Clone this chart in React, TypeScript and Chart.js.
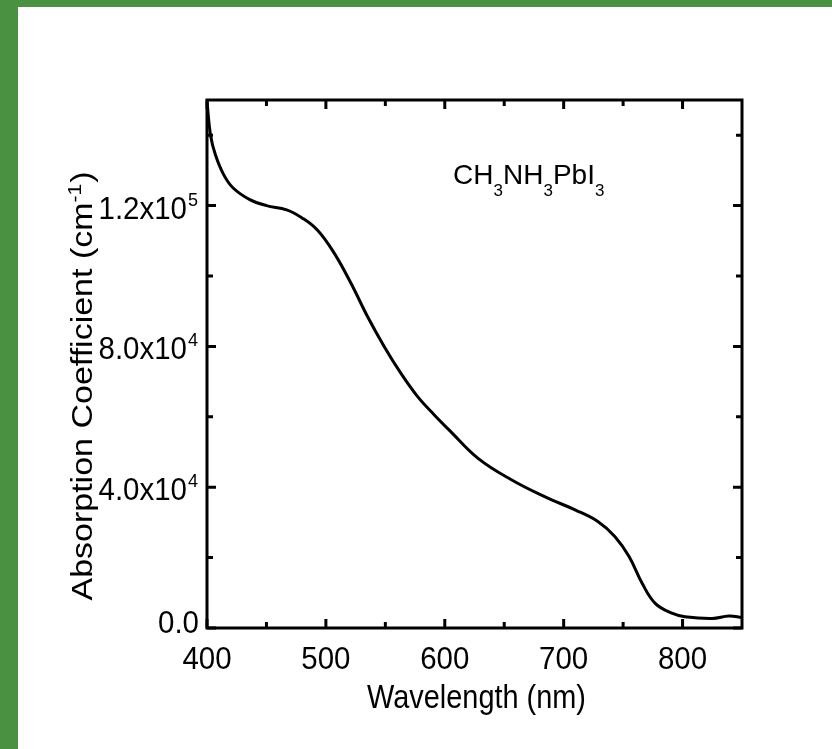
import React, { useEffect, useRef } from "react";
import { Chart, registerables } from "chart.js";

Chart.register(...registerables);

// ---- data ----
const wavelengths = [400, 403, 407, 414, 422, 436, 450, 467, 480, 493, 507, 521, 535, 549, 563, 577, 591, 605, 628, 656, 684, 710, 729, 743, 755, 766, 777, 791, 802, 825, 839, 850];
const absorption = [149500, 140000, 134500, 128800, 125000, 121700, 120000, 118800, 116500, 113000, 106500, 98000, 88500, 80000, 72400, 65800, 60600, 55800, 48200, 42100, 37300, 33500, 30200, 26000, 20300, 12700, 7000, 4200, 3200, 2700, 3400, 3000];

const xMin = 400;
const xMax = 850;
const yMin = 0;
const yMax = 150000;

const xMajorTicks = [400, 500, 600, 700, 800];
const xTickLabels = ["400", "500", "600", "700", "800"];
const xMinorTicks = [450, 550, 650, 750];

const yMajorTicks = [0, 40000, 80000, 120000];
const yTickMantissa = ["0.0", "4.0x10", "8.0x10", "1.2x10"];
const yTickExponent = ["", "4", "4", "5"];
const yMinorTicks = [20000, 60000, 100000, 140000];

const xTitle = "Wavelength (nm)";
const yTitleMain = "Absorption Coefficient (cm";
const yTitleSup = "-1";
const yTitleEnd = ")";

const annotationParts = [
  { text: "CH", sub: false },
  { text: "3", sub: true },
  { text: "NH", sub: false },
  { text: "3", sub: true },
  { text: "PbI", sub: false },
  { text: "3", sub: true },
];
const annotationAt = { x: 607, y: 126000 };

const FONT = "'Liberation Sans', Arial, Helvetica, sans-serif";

const decorPlugin = {
  id: "decor",
  afterDraw(chart: any) {
    const ctx: CanvasRenderingContext2D = chart.ctx;
    const { left, right, top, bottom } = chart.chartArea;
    const xs = chart.scales.x;
    const ys = chart.scales.y;
    ctx.save();
    ctx.strokeStyle = "#000";
    ctx.fillStyle = "#000";
    ctx.lineWidth = 3;
    ctx.lineCap = "butt";

    // frame
    ctx.strokeRect(left, top, right - left, bottom - top);

    const majorLen = 9;
    const minorLen = 6;
    const drawX = (v: number, len: number) => {
      const px = xs.getPixelForValue(v);
      ctx.beginPath();
      ctx.moveTo(px, bottom);
      ctx.lineTo(px, bottom - len);
      ctx.moveTo(px, top);
      ctx.lineTo(px, top + len);
      ctx.stroke();
    };
    const drawY = (v: number, len: number) => {
      const py = ys.getPixelForValue(v);
      ctx.beginPath();
      ctx.moveTo(left, py);
      ctx.lineTo(left + len, py);
      ctx.moveTo(right, py);
      ctx.lineTo(right - len, py);
      ctx.stroke();
    };
    xMajorTicks.forEach((v) => drawX(v, majorLen));
    xMinorTicks.forEach((v) => drawX(v, minorLen));
    yMajorTicks.forEach((v) => drawY(v, majorLen));
    yMinorTicks.forEach((v) => drawY(v, minorLen));

    const text = (t: string, x: number, y: number, size: number, align: CanvasTextAlign, sx: number) => {
      ctx.save();
      ctx.translate(x, y);
      ctx.scale(sx, 1);
      ctx.font = `${size}px ${FONT}`;
      ctx.textAlign = align;
      ctx.textBaseline = "alphabetic";
      ctx.fillText(t, 0, 0);
      ctx.restore();
    };
    const width = (t: string, size: number, sx: number) => {
      ctx.save();
      ctx.font = `${size}px ${FONT}`;
      const w = ctx.measureText(t).width * sx;
      ctx.restore();
      return w;
    };

    // x tick labels
    const tickSize = 31;
    const tickSx = 0.95;
    xMajorTicks.forEach((v, i) => {
      text(xTickLabels[i], xs.getPixelForValue(v), bottom + 41, tickSize, "center", tickSx);
    });

    // y tick labels
    const supSize = 19;
    yMajorTicks.forEach((v, i) => {
      const py = ys.getPixelForValue(v);
      const exp = yTickExponent[i];
      const rightEdge = left - 9;
      if (exp) {
        const ew = width(exp, supSize, tickSx);
        const baseline = py + 13;
        text(yTickMantissa[i], rightEdge - ew - 1, baseline, tickSize, "right", tickSx);
        text(exp, rightEdge - ew, baseline - 13, supSize, "left", tickSx);
      } else {
        text(yTickMantissa[i], left - 8, py + 5, tickSize, "right", tickSx);
      }
    });

    // x title
    const titleSize = 34;
    const titleSx = 0.85;
    text(xTitle, (left + right) / 2 + 2, bottom + 80, titleSize, "center", titleSx);

    // y title (rotated)
    ctx.save();
    ctx.translate(92, 386);
    ctx.rotate(-Math.PI / 2);
    ctx.scale(1, titleSx);
    ctx.font = `${titleSize}px ${FONT}`;
    const w1 = ctx.measureText(yTitleMain).width;
    ctx.font = `21px ${FONT}`;
    const w2 = ctx.measureText(yTitleSup).width;
    ctx.font = `${titleSize}px ${FONT}`;
    const w3 = ctx.measureText(yTitleEnd).width;
    const total = w1 + w2 + 1 + w3;
    let cx = -total / 2;
    ctx.textAlign = "left";
    ctx.textBaseline = "alphabetic";
    ctx.fillText(yTitleMain, cx, 0);
    cx += w1;
    ctx.font = `21px ${FONT}`;
    ctx.fillText(yTitleSup, cx, -13);
    cx += w2 + 1;
    ctx.font = `${titleSize}px ${FONT}`;
    ctx.fillText(yTitleEnd, cx, 0);
    ctx.restore();

    // annotation
    let ax = xs.getPixelForValue(annotationAt.x);
    const ay = ys.getPixelForValue(annotationAt.y);
    annotationParts.forEach((p) => {
      const size = p.sub ? 17 : 28;
      const yy = p.sub ? ay + 12 : ay;
      text(p.text, ax, yy, size, "left", 1);
      ax += width(p.text, size, 1);
    });

    ctx.restore();
  },
};

export default function App() {
  const canvasRef = useRef<HTMLCanvasElement | null>(null);

  useEffect(() => {
    if (!canvasRef.current) return;
    const points = wavelengths.map((w, i) => ({ x: w, y: absorption[i] }));
    const chart = new Chart(canvasRef.current, {
      type: "line",
      data: {
        datasets: [
          {
            data: points,
            borderColor: "#000",
            borderWidth: 3,
            pointRadius: 0,
            fill: false,
            tension: 0.4,
          },
        ],
      },
      options: {
        animation: false,
        responsive: true,
        maintainAspectRatio: false,
        layout: { padding: { left: 207, right: 90, top: 100, bottom: 121 } },
        plugins: { legend: { display: false }, tooltip: { enabled: false } },
        scales: {
          x: { type: "linear", min: xMin, max: xMax, display: false },
          y: { type: "linear", min: yMin, max: yMax, display: false },
        },
      },
      plugins: [decorPlugin],
    });
    return () => chart.destroy();
  }, []);

  return (
    <div style={{ position: "absolute", left: 0, top: 0, width: 832, height: 749, background: "#fff", overflow: "hidden" }}>
      <div style={{ position: "absolute", left: 0, top: 0, width: 18, height: 749, background: "#4a9141" }} />
      <div style={{ position: "absolute", left: 0, top: 0, width: 832, height: 7, background: "#4a9141" }} />
      <div style={{ position: "absolute", left: 0, top: 0, width: 832, height: 749 }}>
        <canvas ref={canvasRef} />
      </div>
    </div>
  );
}
